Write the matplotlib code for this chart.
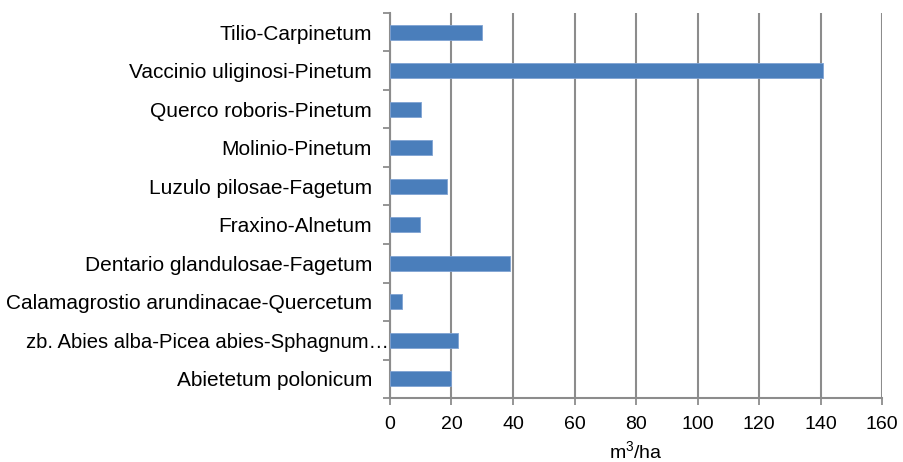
import matplotlib
matplotlib.use("Agg")
import matplotlib.pyplot as plt
import matplotlib.transforms as mtransforms
import numpy as np

categories = [
    "Tilio-Carpinetum",
    "Vaccinio uliginosi-Pinetum",
    "Querco roboris-Pinetum",
    "Molinio-Pinetum",
    "Luzulo pilosae-Fagetum",
    "Fraxino-Alnetum",
    "Dentario glandulosae-Fagetum",
    "Calamagrostio arundinacae-Quercetum",
    "zb. Abies alba-Picea abies-Sphagnum…",
    "Abietetum polonicum",
]
values = [30, 140.7, 10, 13.7, 18.6, 9.7, 38.9, 3.8, 22.1, 20]
x_ticks = [0, 20, 40, 60, 80, 100, 120, 140, 160]
x_label = "m$^3$/ha"

plt.rcParams["font.family"] = ["Liberation Sans", "DejaVu Sans"]
plt.rcParams["mathtext.fontset"] = "custom"
plt.rcParams["mathtext.rm"] = "Liberation Sans"

fig = plt.figure(figsize=(9.04, 4.62), dpi=100)
ax = fig.add_axes([0.4314, 0.1385, 0.5443, 0.8334])

grid_color = "#8c8c8c"
pos = np.arange(len(categories))
ax.barh(pos, values, height=0.4, color="#4a7ebb", edgecolor="#7fa3d3",
        linewidth=0.6, zorder=3)

ax.set_xlim(0, 160)
ax.set_ylim(len(categories) - 0.5, -0.5)
ax.set_xticks(x_ticks)
ax.set_xticklabels([str(t) for t in x_ticks], fontsize=14)
ax.set_yticks(pos)
ax.set_yticklabels(categories, fontsize=15)
ax.set_yticks(np.arange(len(categories) + 1) - 0.5, minor=True)

ax.tick_params(axis="y", which="major", length=0, pad=13)
ax.tick_params(axis="y", which="minor", length=5, width=1.3, color=grid_color)
ax.tick_params(axis="x", length=5, width=1.3, color=grid_color, pad=8)

ax.xaxis.grid(True, color=grid_color, linewidth=1.5, zorder=0)
ax.set_axisbelow(True)
for side in ("top", "right"):
    ax.spines[side].set_visible(False)
for side in ("left", "bottom"):
    ax.spines[side].set_color(grid_color)
    ax.spines[side].set_linewidth(1.5)

ax.set_xlabel(x_label, fontsize=14, labelpad=5)

# the truncated long name runs up to the axis line
long_label = ax.get_yticklabels()[8]
long_label.set_fontsize(14.6)
long_label.set_transform(long_label.get_transform()
                         + mtransforms.ScaledTranslation(0.17, 0, fig.dpi_scale_trans))

fig.savefig("out.png", dpi=100)
